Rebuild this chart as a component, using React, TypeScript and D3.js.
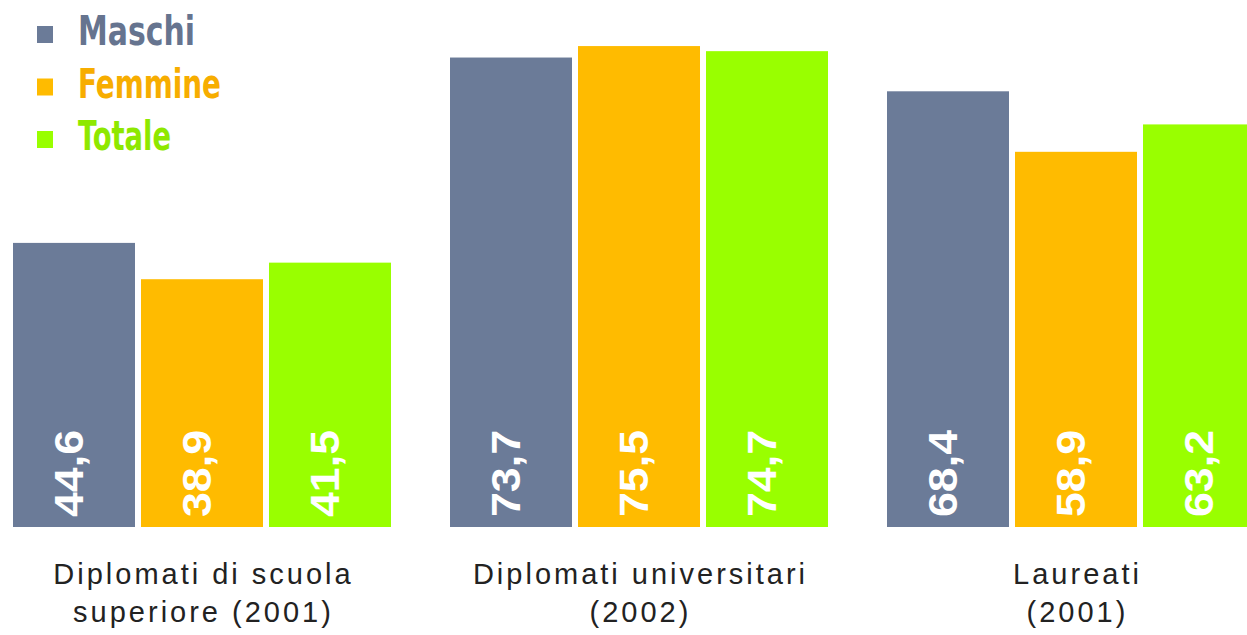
import React from "react";
import * as d3 from "d3";

const categories = [
  ["Diplomati di scuola", "superiore (2001)"],
  ["Diplomati universitari", "(2002)"],
  ["Laureati", "(2001)"],
];
const series = ["Maschi", "Femmine", "Totale"];
const maschi = [44.6, 73.7, 68.4];
const femmine = [38.9, 75.5, 58.9];
const totale = [41.5, 74.7, 63.2];
const colors = ["#6b7b98", "#ffbb00", "#99ff00"];
const legendColors = ["#66748f", "#f7ad00", "#8ee800"];

const values = [maschi, femmine, totale];

export default function App() {
  const W = 1247;
  const H = 635;
  const baseY = 527;
  const groupKeys = categories.map((c, i) => String(i));
  const x0 = d3.scaleBand<string>().domain(groupKeys).range([13, 13 + 3 * 437]).paddingInner(0).paddingOuter(0);
  const x1 = d3.scaleBand<string>().domain(series).range([0, 378]).paddingInner(6 / 128).paddingOuter(0);
  const y = d3.scaleLinear().domain([0, 80]).range([baseY, baseY - 80 * 6.37]);
  const fmt = (v: number) => d3.format(".1f")(v).replace(".", ",");

  return (
    <svg width={W} height={H} style={{ position: "absolute", left: 0, top: 0, background: "#fff" }}>
      <rect x={0} y={0} width={W} height={H} fill="#fff" />
      {groupKeys.map((g, gi) => {
        const gx = x0(g)!;
        return (
          <g key={g}>
            {series.map((s, si) => {
              const v = values[si][gi];
              const bx = gx + x1(s)!;
              const bw = x1.bandwidth();
              const cx = bx + bw / 2;
              return (
                <g key={s}>
                  <rect x={bx} y={y(v)} width={bw} height={baseY - y(v)} fill={colors[si]} />
                  <text
                    transform={`translate(${cx + 9},${baseY - 10}) rotate(-90)`}
                    fill="#fff"
                    fontFamily="'Liberation Sans', Arial, sans-serif"
                    fontWeight="bold"
                    fontSize={41}
                    textLength={87}
                    lengthAdjust="spacingAndGlyphs"
                  >
                    {fmt(v)}
                  </text>
                </g>
              );
            })}
            {categories[gi].map((line, li) => (
              <text
                key={li}
                x={gx + 378 / 2 + 1.5}
                y={584 + li * 38}
                textAnchor="middle"
                fill="#222"
                fontFamily="'Liberation Sans', Arial, sans-serif"
                fontSize={29}
                letterSpacing={3}
              >
                {line}
              </text>
            ))}
          </g>
        );
      })}
      {series.map((s, si) => {
        const ly = 45 + si * 52.5;
        const tl = [117, 143, 93][si];
        return (
          <g key={s}>
            <rect x={37} y={ly - 19} width={16} height={17} fill={colors[si]} />
            <text
              x={78}
              y={ly}
              fill={legendColors[si]}
              fontFamily="'Liberation Sans Narrow', 'DejaVu Sans Condensed', sans-serif"
              fontWeight="bold"
              fontSize={40}
              textLength={tl}
              lengthAdjust="spacingAndGlyphs"
            >
              {s}
            </text>
          </g>
        );
      })}
    </svg>
  );
}
